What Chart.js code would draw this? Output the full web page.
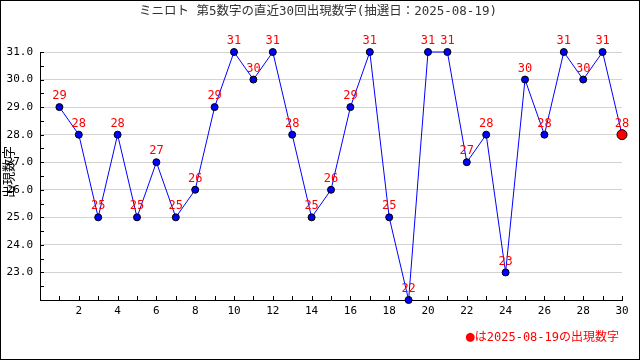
<!DOCTYPE html>
<html><head><meta charset="utf-8">
<script src="https://cdn.jsdelivr.net/npm/chart.js@4"></script>
<style>
html,body{margin:0;padding:0;background:#fff;}
#wrap{width:640px;height:360px;box-sizing:border-box;border:1px solid #000;}
canvas{display:block;}
</style></head>
<body><div id="wrap"><canvas id="c" width="638" height="358"></canvas></div>
<script>
const draws = [1,2,3,4,5,6,7,8,9,10,11,12,13,14,15,16,17,18,19,20,21,22,23,24,25,26,27,28,29,30];
const values = [29,28,25,28,25,27,25,26,29,31,30,31,28,25,26,29,31,25,22,31,31,27,28,23,30,28,31,30,31,28];
const titleText = "ミニロト 第5数字の直近30回出現数字(抽選日：2025-08-19)";
const yTitle = "出現数字";
const footerMark = "●";
const footerText = "は2025-08-19の出現数字";
const FONT = '"DejaVu Sans Mono","Noto Sans CJK JP",monospace';

const lastIdx = values.length - 1;
const extras = {
  id: 'extras',
  afterDraw(chart) {
    const ctx = chart.ctx, ca = chart.chartArea;
    const xs = chart.scales.x, ys = chart.scales.y;
    ctx.save();
    // inward tick marks
    ctx.strokeStyle = '#000'; ctx.lineWidth = 1;
    ctx.beginPath();
    ys.ticks.forEach(t => { const p = Math.round(ys.getPixelForValue(t.value)) + 0.5; ctx.moveTo(ca.left, p); ctx.lineTo(ca.left + 4, p); });
    xs.ticks.forEach(t => { const p = Math.round(xs.getPixelForValue(t.value)) + 0.5; ctx.moveTo(p, ca.bottom); ctx.lineTo(p, ca.bottom - 4); });
    ctx.stroke();
    // value labels
    const meta = chart.getDatasetMeta(0);
    ctx.fillStyle = '#ff0000';
    ctx.font = '12px ' + FONT;
    ctx.textAlign = 'center'; ctx.textBaseline = 'bottom';
    meta.data.forEach((pt, i) => { ctx.fillText(String(values[i]), pt.x, pt.y - 5); });
    // title
    ctx.fillStyle = '#333';
    ctx.font = '12.5px ' + FONT;
    ctx.textAlign = 'center'; ctx.textBaseline = 'middle';
    ctx.fillText(titleText, chart.width / 2 - 2, 11);
    // y title
    ctx.save();
    ctx.translate(9, (ca.top + ca.bottom) / 2 - 4);
    ctx.rotate(-Math.PI / 2);
    ctx.fillStyle = '#000';
    ctx.font = '13px ' + FONT;
    ctx.fillText(yTitle, 0, 0);
    ctx.restore();
    // footer
    ctx.fillStyle = '#ff0000';
    ctx.font = '12px ' + FONT;
    ctx.textAlign = 'right'; ctx.textBaseline = 'middle';
    const fx = ca.right - 3;
    ctx.fillText(footerText, fx, 337);
    const w = ctx.measureText(footerText).width;
    ctx.font = '15px ' + FONT;
    ctx.fillText(footerMark, fx - w, 336);
    ctx.restore();
  }
};

new Chart(document.getElementById('c'), {
  type: 'line',
  data: {
    datasets: [{
      data: draws.map((d, i) => ({x: d, y: values[i]})),
      borderColor: '#0000ff', borderWidth: 1,
      pointBackgroundColor: values.map((v, i) => i === lastIdx ? '#ff0000' : '#0000ff'),
      pointBorderColor: '#000', pointBorderWidth: 1,
      pointRadius: values.map((v, i) => i === lastIdx ? 5 : 3.5),
      tension: 0, clip: false
    }]
  },
  options: {
    responsive: false, animation: false,
    layout: {padding: {top: 51, right: 17, left: 0, bottom: 0}},
    plugins: {legend: {display: false}, tooltip: {enabled: false}, title: {display: false}},
    scales: {
      x: {
        type: 'linear', min: 0, max: 30,
        ticks: {stepSize: 1, autoSkip: false, maxRotation: 0, padding: 5, color: '#000',
          font: {family: FONT, size: 11},
          callback: v => (v > 0 && v % 2 === 0) ? String(v) : ''},
        grid: {display: false, drawTicks: false},
        border: {display: true, color: '#000', width: 1},
        afterFit: s => { s.height = 59; }
      },
      y: {
        min: 22, max: 31,
        ticks: {stepSize: 0.5, autoSkip: false, padding: 7, color: '#000',
          font: {family: FONT, size: 11},
          callback: v => (v > 22 && Number.isInteger(v)) ? v.toFixed(1) : ''},
        grid: {drawTicks: false, color: c => (c.tick && Number.isInteger(c.tick.value)) ? '#d3d3d3' : 'rgba(0,0,0,0)'},
        border: {display: true, color: '#000', width: 1},
        afterFit: s => { s.width = 39; }
      }
    }
  },
  plugins: [extras]
});
</script></body></html>
